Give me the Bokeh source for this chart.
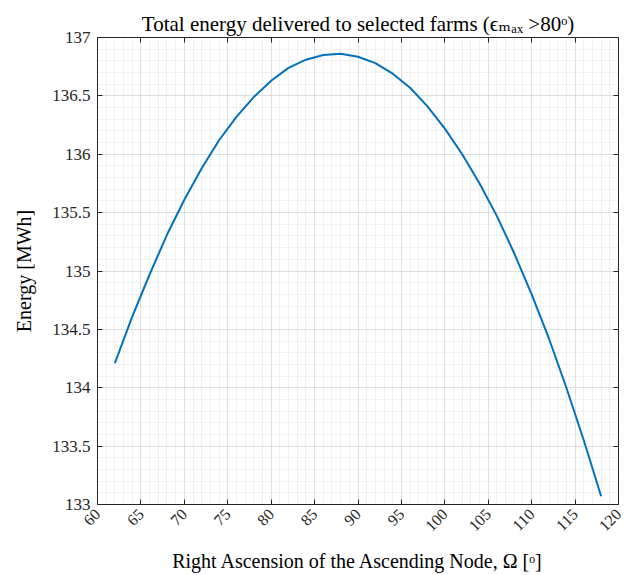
import math
import numpy as np
from bokeh.plotting import figure
from bokeh.models import Range1d, FixedTicker, LinearAxis
from bokeh.embed import file_html
from bokeh.resources import INLINE

# Right ascension of the ascending node [deg] and delivered energy [MWh]
raan = [62, 64, 66, 68, 70, 72, 74, 76, 78, 80, 82, 84, 86, 88, 90,
        92, 94, 96, 98, 100, 102, 104, 106, 108, 110, 112, 114, 116, 118]
energy = [134.21, 134.61, 134.97, 135.31, 135.61, 135.88, 136.12, 136.32,
          136.49, 136.63, 136.74, 136.81, 136.85, 136.86, 136.835, 136.78,
          136.69, 136.57, 136.41, 136.22, 136.00, 135.75, 135.47, 135.15,
          134.80, 134.42, 134.00, 133.55, 133.07]

x_ticks = [60, 65, 70, 75, 80, 85, 90, 95, 100, 105, 110, 115, 120]
y_ticks = [133, 133.5, 134, 134.5, 135, 135.5, 136, 136.5, 137]
y_tick_labels = ["133", "133.5", "134", "134.5", "135", "135.5", "136", "136.5", "137"]

title_text = "Total energy delivered to selected farms (\u03f5\u2098\u2090\u2093 >80\u1d52)"
x_label = "Right Ascension of the Ascending Node, \u03a9 [\u1d52]"
y_label = "Energy [MWh]"

FONT = "'Liberation Serif', 'DejaVu Serif', serif"
AX = "#262626"
LEFT, TOP, RIGHT, BOTTOM = 97, 37, 618, 504
X0, X1, Y0, Y1 = 60, 120, 133, 137

p = figure(width=641, height=575, x_range=Range1d(X0, X1), y_range=Range1d(Y0, Y1),
           output_backend="svg", toolbar_location=None,
           min_border_left=LEFT, min_border_right=641 - RIGHT,
           min_border_top=TOP, min_border_bottom=575 - BOTTOM)
p.outline_line_color = None
p.background_fill_color = "white"
p.border_fill_color = "white"

p.title.text = title_text
p.title.text_font = FONT
p.title.text_font_size = "21px"
p.title.text_font_style = "normal"
p.title.text_color = "black"
p.title.align = "center"
p.title.standoff = 3

x_ticker = FixedTicker(ticks=x_ticks, minor_ticks=list(np.arange(X0, X1 + 0.5, 1.0)))
y_ticker = FixedTicker(ticks=y_ticks, minor_ticks=list(np.round(np.arange(Y0, Y1 + 0.05, 0.1), 2)))


def style_axis(ax, ticker):
    ax.ticker = ticker
    ax.axis_line_color = AX
    ax.axis_line_width = 1
    ax.major_tick_line_color = AX
    ax.major_tick_in = 5
    ax.major_tick_out = 0
    ax.minor_tick_in = 0
    ax.minor_tick_out = 0
    ax.major_label_text_color = AX
    ax.major_label_text_font = FONT
    ax.axis_label_text_font = FONT
    ax.axis_label_text_font_style = "normal"
    ax.axis_label_text_color = "black"
    ax.axis_label_text_font_size = "20px"


xa, ya = p.xaxis[0], p.yaxis[0]
style_axis(xa, x_ticker)
style_axis(ya, y_ticker)
xa.major_label_text_font_size = "16px"
xa.major_label_orientation = math.pi / 4
xa.major_label_standoff = 7
xa.axis_label = x_label
xa.axis_label_standoff = 11
ya.major_label_text_font_size = "17px"
ya.major_label_standoff = 7
ya.major_label_overrides = {t: s for t, s in zip(y_ticks, y_tick_labels)}
ya.axis_label = y_label
ya.axis_label_standoff = 14

# box edges on the top and right, ticks only
top_axis = LinearAxis()
right_axis = LinearAxis()
style_axis(top_axis, x_ticker)
style_axis(right_axis, y_ticker)
for ax, ticks in ((top_axis, x_ticks), (right_axis, y_ticks)):
    ax.major_label_overrides = {t: "" for t in ticks}
    ax.major_label_text_color = None
    ax.major_label_standoff = 0
p.add_layout(top_axis, "above")
p.add_layout(right_axis, "right")

for g in (p.xgrid[0], p.ygrid[0]):
    g.grid_line_color = "#cccccc"
    g.grid_line_dash = "1 1"
    g.minor_grid_line_color = "#e2e2e2"
    g.minor_grid_line_dash = "1 1"

p.line(raan, energy, line_color="#0072BD", line_width=2)

open("out.html", "w").write(file_html(p, INLINE))
